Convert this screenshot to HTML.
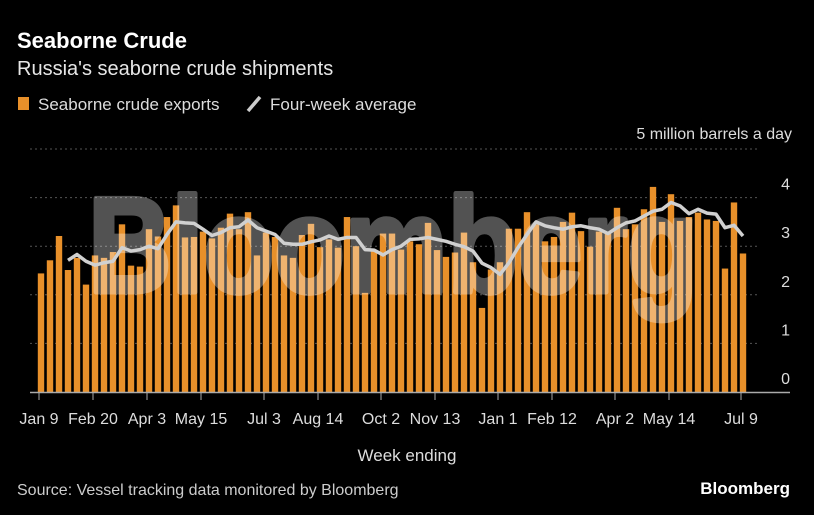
<!DOCTYPE html>
<html><head><meta charset="utf-8"><style>
body{margin:0;background:#000;width:814px;height:515px;overflow:hidden;font-family:"Liberation Sans",sans-serif;color:#ddd}
svg{position:absolute;left:0;top:0}
</style></head><body>
<svg id="c" width="814" height="515">
<text x="17" y="48" font-size="22" font-weight="bold" fill="#fff">Seaborne Crude</text>
<text x="17" y="75" font-size="20" fill="#e6e6e6">Russia's seaborne crude shipments</text>
<rect x="18" y="97" width="11" height="13" fill="#e8902a"/>
<text x="38" y="110" font-size="17" fill="#ddd">Seaborne crude exports</text>
<line x1="248" y1="111" x2="260" y2="97" stroke="#ccc" stroke-width="3.5"/>
<text x="270" y="110" font-size="17" fill="#ddd">Four-week average</text>
<text x="792" y="139" font-size="16" fill="#ddd" text-anchor="end">5 million barrels a day</text>
<g id="grid"></g><g id="bars"></g><g id="wm" opacity="0.32"></g><g id="line"></g><g id="axis"></g>
<text x="407" y="461" font-size="17" fill="#ddd" text-anchor="middle">Week ending</text>
<text x="17" y="495" font-size="16" fill="#ccc">Source: Vessel tracking data monitored by Bloomberg</text>
<text x="790" y="494" font-size="17" font-weight="bold" fill="#fff" text-anchor="end">Bloomberg</text>
</svg>
<script>
const exportsVals=[2.44,2.71,3.21,2.51,2.76,2.21,2.81,2.76,2.88,3.45,2.60,2.58,3.35,3.20,3.60,3.84,3.18,3.19,3.30,3.16,3.38,3.67,3.35,3.70,2.81,3.28,3.19,2.81,2.76,3.23,3.46,2.98,3.14,2.97,3.60,3.00,2.04,2.90,3.26,3.26,
2.93,3.10,3.04,3.48,2.92,2.78,2.87,3.28,2.67,1.73,2.52,2.67,3.36,3.36,3.70,3.45,3.10,3.19,3.50,3.69,
3.31,2.99,3.30,3.28,3.79,3.35,3.45,3.76,4.22,3.50,4.07,3.52,3.60,3.69,3.55,3.52,2.54,3.90,2.85];
const avgStart=3;
const avgVals=[2.71,2.83,2.69,2.61,2.66,2.69,2.97,2.90,2.93,3.00,2.95,3.24,3.50,3.48,3.47,3.35,3.22,3.28,3.38,3.40,3.54,3.38,3.31,3.24,3.06,3.04,3.04,3.09,3.13,3.21,3.14,3.18,3.18,2.93,2.92,2.82,2.93,
3.00,3.14,3.15,3.18,3.14,3.10,3.04,2.99,2.90,2.65,2.56,2.42,2.66,2.97,3.24,3.50,3.42,3.38,3.35,3.40,
3.42,3.38,3.35,3.26,3.38,3.48,3.52,3.62,3.72,3.76,3.90,3.83,3.67,3.76,3.68,3.66,3.38,3.43,3.21];
const tickLabels=["Jan 9","Feb 20","Apr 3","May 15","Jul 3","Aug 14","Oct 2","Nov 13","Jan 1","Feb 12","Apr 2","May 14","Jul 9"];
const tickIdx=[0,6,12,18,25,31,38,44,51,57,64,70,78];
const yTicks=[0,1,2,3,4];
const NS="http://www.w3.org/2000/svg";
const X=i=>41+9*i, Y=v=>392-48.6*v;
function mk(t,a,p){const e=document.createElementNS(NS,t);for(const k in a)e.setAttribute(k,a[k]);p.appendChild(e);return e;}
const grid=document.getElementById('grid');
[1,2,3,4,5].forEach(v=>{const l=mk('line',{x1:30,x2:760,y1:Y(v),y2:Y(v),stroke:'#555','stroke-dasharray':'2,3'},grid);

});
yTicks.forEach(v=>{const t=mk('text',{x:790,y:Y(v)-8,'font-size':16,fill:'#ddd','text-anchor':'end'},grid);t.textContent=v;

});
const bars=document.getElementById('bars');
exportsVals.forEach((v,i)=>{const r=mk('rect',{x:X(i)-3.2,y:Y(v),width:6.4,height:392-Y(v),fill:'#e8902a'},bars);

});
const wm=mk('text',{x:88,y:292,'font-size':136,'font-weight':'bold',fill:'#fff',stroke:'#fff','stroke-width':5,'stroke-linejoin':'round',textLength:610,lengthAdjust:'spacingAndGlyphs'},document.getElementById('wm'));
wm.textContent='Bloomberg';


const pts=avgVals.map((v,i)=>X(i+avgStart)+','+Y(v)).join(' ');
const pl=mk('polyline',{points:pts,fill:'none',stroke:'#d0d0d0','stroke-width':3.5,'stroke-linejoin':'round'},document.getElementById('line'));


const ax=document.getElementById('axis');
const bl=mk('line',{x1:30,x2:790,y1:392.5,y2:392.5,stroke:'#aaa','stroke-width':1.5},ax);


tickIdx.forEach((ti,j)=>{const x=X(ti)-2;
const l=mk('line',{x1:x,x2:x,y1:393,y2:400,stroke:'#aaa'},ax);


const t=mk('text',{x:x,y:424,'font-size':16,fill:'#ddd','text-anchor':'middle'},ax);t.textContent=tickLabels[j];

});
</script>
</body></html>
